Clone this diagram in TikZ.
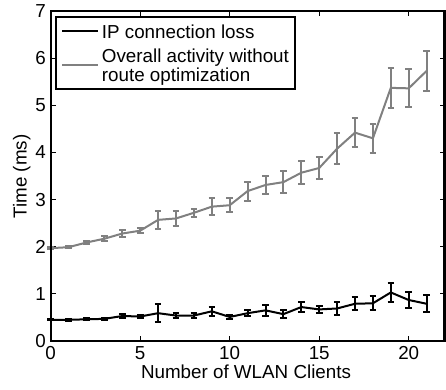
\documentclass[tikz,border=0pt]{standalone}
\usepackage{fontspec}
\setmainfont{Liberation Sans}
\begin{document}
\begin{tikzpicture}[
  font=\fontsize{18.8}{22}\selectfont,
  axisline/.style={line width=2.2pt},
  tickline/.style={line width=0.9pt},
  blackdata/.style={line width=2pt, black, line join=round},
  graydata/.style={line width=2pt, color=graycol, line join=round},
  ticklab/.style={inner sep=0pt},
  txt/.style={inner sep=0pt},
]
\definecolor{graycol}{RGB}{128,128,128}
\useasboundingbox (-50.7pt,-48pt) rectangle (395.3pt,341pt);
\begin{scope}[x=17.9pt,y=47.14pt]
  % ticks
  \foreach \t in {0,5,10,15,20} {
    \draw[tickline] (\t,0) -- ++(0,5pt);
    \draw[tickline] (\t,7) -- ++(0,-5pt);
    \node[ticklab, anchor=base] (xt\t) at ([yshift=-18.5pt]\t,0) {\t};
  }
  \foreach \t in {0,...,7} {
    \draw[tickline] (0,\t) -- ++(5pt,0);
    \draw[tickline] (22,\t) -- ++(-5pt,0);
    \node[ticklab, anchor=east] (yt\t) at ([xshift=-4.7pt]0,\t) {\t};
  }
  % gray series
  \draw[graydata] plot coordinates {(0,1.97) (1,1.99) (2,2.09) (3,2.17) (4,2.28) (5,2.34) (6,2.57) (7,2.60) (8,2.72) (9,2.85) (10,2.88) (11,3.18) (12,3.31) (13,3.37) (14,3.57) (15,3.67) (16,4.08) (17,4.42) (18,4.30) (19,5.37) (20,5.36) (21,5.73)};
  \foreach \x/\y/\e in {0/1.97/0.02, 1/1.99/0.02, 2/2.09/0.04, 3/2.17/0.05, 4/2.28/0.07, 5/2.34/0.05, 6/2.57/0.19, 7/2.60/0.15, 8/2.72/0.08, 9/2.85/0.18, 10/2.88/0.15, 11/3.18/0.2, 12/3.31/0.2, 13/3.37/0.24, 14/3.57/0.25, 15/3.67/0.23, 16/4.08/0.33, 17/4.42/0.31, 18/4.30/0.31, 19/5.37/0.42, 20/5.36/0.40, 21/5.73/0.42} {
    \draw[graydata] (\x,\y-\e) -- (\x,\y+\e);
    \draw[graydata] ([xshift=-3.3pt]\x,\y-\e) -- ([xshift=3.3pt]\x,\y-\e);
    \draw[graydata] ([xshift=-3.3pt]\x,\y+\e) -- ([xshift=3.3pt]\x,\y+\e);
  }
  % black series
  \draw[blackdata] plot coordinates {(0,0.45) (1,0.45) (2,0.46) (3,0.47) (4,0.53) (5,0.52) (6,0.59) (7,0.54) (8,0.54) (9,0.63) (10,0.51) (11,0.59) (12,0.65) (13,0.57) (14,0.72) (15,0.67) (16,0.69) (17,0.79) (18,0.80) (19,1.03) (20,0.87) (21,0.79)};
  \foreach \x/\y/\e in {0/0.45/0.01, 1/0.45/0.02, 2/0.46/0.02, 3/0.47/0.02, 4/0.53/0.05, 5/0.52/0.04, 6/0.59/0.19, 7/0.54/0.06, 8/0.54/0.05, 9/0.63/0.1, 10/0.51/0.04, 11/0.59/0.07, 12/0.65/0.11, 13/0.57/0.08, 14/0.72/0.11, 15/0.67/0.08, 16/0.69/0.14, 17/0.79/0.14, 18/0.80/0.15, 19/1.03/0.21, 20/0.87/0.18, 21/0.79/0.18} {
    \draw[blackdata] (\x,\y-\e) -- (\x,\y+\e);
    \draw[blackdata] ([xshift=-3.3pt]\x,\y-\e) -- ([xshift=3.3pt]\x,\y-\e);
    \draw[blackdata] ([xshift=-3.3pt]\x,\y+\e) -- ([xshift=3.3pt]\x,\y+\e);
  }
  % frame
  \draw[axisline] (0,0) rectangle (22,7);
\end{scope}
% legend
\draw[line width=1.4pt, fill=white] (5.3pt,252pt) rectangle (244.3pt,324pt);
\draw[blackdata] (11.6pt,310.3pt) coordinate (l1a) -- (47pt,310.3pt) coordinate (l1b);
\draw[graydata] (11.6pt,276pt) coordinate (l2a) -- (47pt,276pt) coordinate (l2b);
\node[txt, anchor=base west] (leg1) at (51pt,302pt) {IP connection loss};
\node[txt, anchor=base west] (leg2a) at (51pt,278.5pt) {Overall activity without};
\node[txt, anchor=base west] (leg2b) at (51pt,259.5pt) {route optimization};
% axis labels
\node[txt, anchor=base] (xlab) at (195.3pt,-37.5pt) {Number of WLAN Clients};
\node[txt, rotate=90, anchor=base] (ylab) at (-24pt,164.5pt) {Time (ms)};
\end{tikzpicture}
\end{document}
